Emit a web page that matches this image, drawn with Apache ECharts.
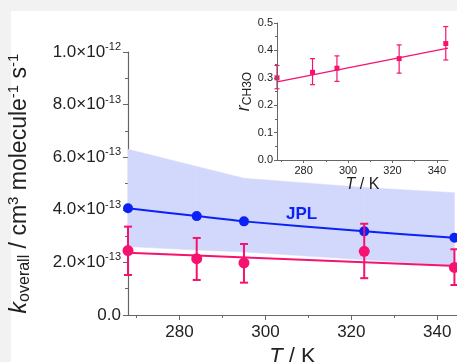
<!DOCTYPE html>
<html>
<head>
<meta charset="utf-8">
<script src="https://cdn.jsdelivr.net/npm/echarts@6/dist/echarts.min.js"></script>
<style>
  html, body { margin: 0; padding: 0; background: #f2f2f2; }
  #panel { position: absolute; left: 11px; top: 11px; width: 446px; height: 351px; background: #fff; }
  #main { position: absolute; left: 0; top: 0; width: 457px; height: 362px; }
</style>
</head>
<body>
<div id="panel"></div>
<div id="main"></div>
<script>
// temperatures (K)
var temps = [268, 284, 295, 323, 344];
// JPL recommended k and its uncertainty band
var kJPL = [4.06e-13, 3.76e-13, 3.56e-13, 3.18e-13, 2.94e-13];
var bandLow = [2.60e-13, 2.47e-13, 2.40e-13, 2.10e-13, 1.88e-13];
var bandHigh = [6.30e-13, 5.65e-13, 5.20e-13, 4.85e-13, 4.65e-13];
// measured k_overall with error bars
var kMeas = [2.45e-13, 2.14e-13, 1.98e-13, 2.42e-13, 1.81e-13];
var kLow = [1.52e-13, 1.33e-13, 1.23e-13, 1.40e-13, 1.14e-13];
var kHigh = [3.36e-13, 2.93e-13, 2.70e-13, 3.47e-13, 2.50e-13];
// fit line
var fitT = [268, 345];
var kFit = [2.37e-13, 1.86e-13];
// inset: r_CH3O
var rMeas = [0.30, 0.32, 0.335, 0.37, 0.425];
var rLow = [0.26, 0.275, 0.287, 0.317, 0.365];
var rHigh = [0.345, 0.37, 0.38, 0.42, 0.487];
var rFit = [0.285, 0.408];

var majorT = [280, 300, 320, 340];
var minorT = [270, 290, 310, 330];

var PINK = '#f5136f';
var BLUE = '#0a22f5';
var FONT = 'Liberation Sans';

var myChart = echarts.init(document.getElementById('main'));

function pairs(xs, ys) {
  return xs.map(function (x, i) { return [x, ys[i]]; });
}

function sciLabel(v) {
  if (v === 0) return '{m|0.0}';
  var s = v.toExponential(1).split('e');
  return '{m|' + s[0] + '×10}{e|' + parseInt(s[1], 10) + '}';
}

function errorBars(cap, width) {
  return function (params, api) {
    var x = api.value(0);
    var lo = api.coord([x, api.value(1)]);
    var hi = api.coord([x, api.value(2)]);
    var st = { stroke: PINK, lineWidth: width };
    return {
      type: 'group',
      children: [
        { type: 'line', shape: { x1: lo[0], y1: lo[1], x2: hi[0], y2: hi[1] }, style: st },
        { type: 'line', shape: { x1: lo[0] - cap, y1: lo[1], x2: lo[0] + cap, y2: lo[1] }, style: st },
        { type: 'line', shape: { x1: hi[0] - cap, y1: hi[1], x2: hi[0] + cap, y2: hi[1] }, style: st }
      ]
    };
  };
}

// band drawn segment by segment between neighbouring temperatures
function bandSegment(params, api) {
  if (params.dataIndex >= temps.length - 1) return null;
  var t0 = api.value(0), t1 = api.value(3);
  var pts = [
    api.coord([t0, api.value(1)]),
    api.coord([t1, api.value(4)]),
    api.coord([t1, api.value(5)]),
    api.coord([t0, api.value(2)])
  ];
  return { type: 'polygon', shape: { points: pts }, style: { fill: '#d2d8fb', stroke: '#d2d8fb', lineWidth: 0.5 } };
}

var axisGray = { lineStyle: { color: '#666', width: 1.2 } };

function xAxes(grid, big) {
  var fs = big ? 17 : 11;
  var mx = big ? 344.6 : 345;
  return [{
    type: 'value', gridIndex: grid, min: 268, max: mx, position: 'bottom', z: big ? 0 : 6,
    axisLine: axisGray,
    splitLine: { show: false },
    axisTick: { customValues: majorT, length: big ? 5 : 3, lineStyle: { color: '#666' } },
    axisLabel: { customValues: majorT, color: '#222', fontSize: fs, fontFamily: FONT, margin: big ? 9 : 5 },
    name: '{i|T} / K', nameLocation: 'middle', nameGap: big ? 30 : 14,
    nameTextStyle: {
      fontSize: big ? 22 : 16, fontFamily: FONT, color: '#222',
      rich: { i: { fontStyle: 'italic', fontSize: big ? 22 : 16, fontFamily: FONT, color: '#222' } }
    }
  }, {
    type: 'value', gridIndex: grid, min: 268, max: mx, position: 'bottom', z: big ? 0 : 6,
    axisLine: { show: false },
    splitLine: { show: false },
    axisTick: { customValues: minorT, length: big ? 3 : 2, lineStyle: { color: '#666' } },
    axisLabel: { show: false }
  }];
}

var option = {
  animation: false,
  grid: [
    { left: 128, top: 52, right: 0, bottom: 47, outerBoundsMode: 'none' },
    { left: 277, top: 23, width: 171, height: 137, outerBoundsMode: 'none' }
  ],
  xAxis: xAxes(0, true).concat(xAxes(1, false)),
  yAxis: [{
    type: 'value', gridIndex: 0, min: 0, max: 1e-12, interval: 2e-13,
    axisLine: { show: true, lineStyle: { color: '#666', width: 1.2 } },
    splitLine: { show: false },
    axisTick: { show: true, length: 5, lineStyle: { color: '#666' } },
    minorTick: { show: true, splitNumber: 2, length: 3, lineStyle: { color: '#666' } },
    axisLabel: {
      formatter: sciLabel, margin: 7,
      rich: {
        m: { fontSize: 17, fontFamily: FONT, color: '#222' },
        e: { fontSize: 11, fontFamily: FONT, color: '#222', verticalAlign: 'bottom', padding: [0, 0, 10, 0] }
      }
    },
    name: '{i|k}{s|overall}{n| / cm}{p|3}{n| molecule}{p|-1}{n| s}{p|-1}',
    nameLocation: 'middle', nameGap: 94,
    nameTextStyle: {
      rich: {
        i: { fontStyle: 'italic', fontSize: 23, fontFamily: FONT, color: '#222' },
        n: { fontSize: 23, fontFamily: FONT, color: '#222' },
        s: { fontSize: 16, fontFamily: FONT, color: '#222', verticalAlign: 'top', padding: [11, 0, 0, 0] },
        p: { fontSize: 15, fontFamily: FONT, color: '#222', verticalAlign: 'bottom', padding: [0, 0, 13, 0] }
      }
    }
  }, {
    type: 'value', gridIndex: 1, min: 0, max: 0.5, interval: 0.1, z: 6,
    axisLine: { show: true, lineStyle: { color: '#666', width: 1 } },
    splitLine: { show: false },
    axisTick: { show: true, length: 3, lineStyle: { color: '#666' } },
    minorTick: { show: true, splitNumber: 2, length: 2, lineStyle: { color: '#666' } },
    axisLabel: {
      formatter: function (v) { return v.toFixed(1); },
      color: '#222', fontSize: 11, fontFamily: FONT, margin: 4
    },
    name: '{i|r}{s|CH3O}', nameLocation: 'middle', nameGap: 20,
    nameTextStyle: {
      rich: {
        i: { fontStyle: 'italic', fontSize: 18, fontFamily: FONT, color: '#222' },
        s: { fontSize: 12, fontFamily: FONT, color: '#222', verticalAlign: 'top', padding: [8, 0, 0, 0] }
      }
    }
  }],
  graphic: [{
    type: 'text', left: 286, top: 206, z: 100,
    style: { text: 'JPL', fill: BLUE, font: 'bold 17px Liberation Sans' }
  }],
  series: [
    {
      type: 'custom', xAxisIndex: 0, yAxisIndex: 0, renderItem: bandSegment, silent: true, z: 1,
      data: temps.map(function (t, i) {
        var j = Math.min(i + 1, temps.length - 1);
        return [t, bandLow[i], bandHigh[i], temps[j], bandLow[j], bandHigh[j]];
      })
    },
    {
      type: 'line', xAxisIndex: 0, yAxisIndex: 0, smooth: 0.3,
      data: pairs(temps, kJPL), symbol: 'circle', symbolSize: 10,
      itemStyle: { color: BLUE }, lineStyle: { color: BLUE, width: 2 }, z: 3
    },
    {
      type: 'line', xAxisIndex: 0, yAxisIndex: 0, symbol: 'none',
      data: pairs(fitT, kFit), lineStyle: { color: PINK, width: 2 }, z: 3
    },
    {
      type: 'custom', xAxisIndex: 0, yAxisIndex: 0, renderItem: errorBars(4, 2),
      data: temps.map(function (t, i) { return [t, kLow[i], kHigh[i]]; }), z: 4
    },
    {
      type: 'scatter', xAxisIndex: 0, yAxisIndex: 0, symbol: 'circle', symbolSize: 11,
      data: pairs(temps, kMeas), itemStyle: { color: PINK, opacity: 1 }, z: 5
    },
    {
      type: 'line', xAxisIndex: 2, yAxisIndex: 1, symbol: 'none',
      data: pairs(fitT, rFit), lineStyle: { color: PINK, width: 1.3 }, z: 3
    },
    {
      type: 'custom', xAxisIndex: 2, yAxisIndex: 1, renderItem: errorBars(2.5, 1.2),
      data: temps.map(function (t, i) { return [t, rLow[i], rHigh[i]]; }), z: 4
    },
    {
      type: 'scatter', xAxisIndex: 2, yAxisIndex: 1, symbol: 'rect', symbolSize: 5,
      data: pairs(temps, rMeas), itemStyle: { color: PINK, opacity: 1 }, z: 5
    }
  ]
};

myChart.setOption(option);
</script>
</body>
</html>
